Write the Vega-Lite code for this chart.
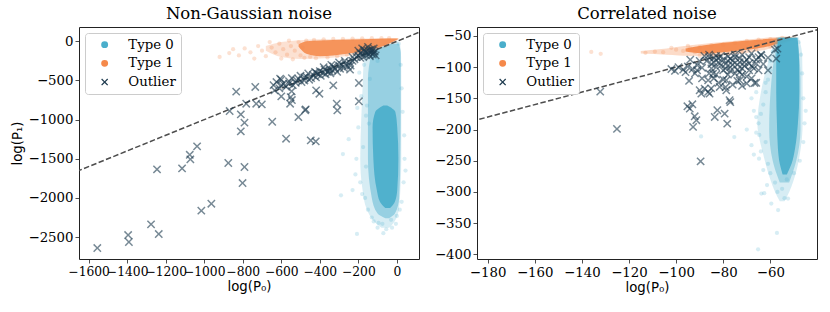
{
"$schema":"https://vega.github.io/schema/vega-lite/v6.json",
"padding":{"left":9,"top":5,"right":0,"bottom":0},
"autosize":{"type":"pad"},
"background":"white",
"spacing":13,
"config":{
 "view":{"stroke":"#222","strokeWidth":1},
 "axis":{"domain":false,"grid":false,"tickColor":"#222","tickSize":4,"tickWidth":0.8,"labelFont":"DejaVu Serif","labelFontSize":13.3,"labelColor":"#000","titleFont":"DejaVu Sans","titleFontSize":13.3,"titleFontWeight":"normal","titleColor":"#000","labelOverlap":false,"labelPadding":2,"format":"d"},
 "title":{"font":"DejaVu Serif","fontSize":16.5,"fontWeight":"normal","color":"#000","offset":5},
 "legend":{"title":null,"orient":"top-left","offset":6,"padding":5,"fillColor":"white","strokeColor":"#cccccc","cornerRadius":3,"labelFont":"DejaVu Serif","labelFontSize":13.3,"labelColor":"#000","rowPadding":4.7,"symbolOffset":8,"labelOffset":17,"symbolSize":48,"symbolOpacity":1,"symbolStrokeWidth":0}
},
"resolve":{"scale":{"color":"independent","shape":"independent","x":"independent","y":"independent"},"legend":{"color":"independent","shape":"independent"}},
"datasets":{
"Ldiag":[{"x":-1700,"y":-1700},{"x":200,"y":200}],
"Rdiag":[{"x":-190,"y":-190},{"x":-35,"y":-35}],
"L1h":[{"x":-680,"y":-120,"y2":-60},{"x":-600,"y":-200,"y2":-10},{"x":-500,"y":-225,"y2":15},{"x":-400,"y":-220,"y2":25},{"x":-300,"y":-200,"y2":30},{"x":-200,"y":-165,"y2":35},{"x":-100,"y":-110,"y2":40},{"x":-30,"y":-40,"y2":42},{"x":10,"y":28,"y2":40}],
"L1c":[{"x":-510,"y":-70,"y2":-40},{"x":-470,"y":-160,"y2":0},{"x":-400,"y":-190,"y2":12},{"x":-330,"y":-180,"y2":18},{"x":-230,"y":-150,"y2":24},{"x":-130,"y":-100,"y2":30},{"x":-50,"y":-40,"y2":35},{"x":5,"y":25,"y2":36}],
"L0h":[{"y":0,"x":-5,"x2":5},{"y":-60,"x":-60,"x2":18},{"y":-200,"x":-170,"x2":22},{"y":-600,"x":-178,"x2":23},{"y":-1000,"x":-185,"x2":23},{"y":-1500,"x":-190,"x2":23},{"y":-1900,"x":-178,"x2":18},{"y":-2150,"x":-155,"x2":10},{"y":-2300,"x":-118,"x2":-12},{"y":-2380,"x":-80,"x2":-40}],
"L0m":[{"y":-30,"x":-30,"x2":10},{"y":-150,"x":-130,"x2":20},{"y":-500,"x":-150,"x2":20},{"y":-900,"x":-150,"x2":20},{"y":-1500,"x":-150,"x2":18},{"y":-2000,"x":-130,"x2":12},{"y":-2200,"x":-100,"x2":-10},{"y":-2260,"x":-60,"x2":-40}],
"L0c":[{"y":-820,"x":-70,"x2":-50},{"y":-900,"x":-112,"x2":-8},{"y":-1100,"x":-126,"x2":2},{"y":-1500,"x":-122,"x2":8},{"y":-1900,"x":-104,"x2":2},{"y":-2050,"x":-88,"x2":-10},{"y":-2130,"x":-60,"x2":-35}],
"R1h":[{"x":-115,"y":-78,"y2":-74},{"x":-104,"y":-80,"y2":-70},{"x":-94,"y":-82,"y2":-65},{"x":-84,"y":-81,"y2":-61},{"x":-72,"y":-78,"y2":-56.5},{"x":-62,"y":-72,"y2":-53},{"x":-52,"y":-59,"y2":-51},{"x":-49,"y":-55,"y2":-51}],
"R1c":[{"x":-96,"y":-75,"y2":-70},{"x":-88,"y":-78,"y2":-65},{"x":-80,"y":-76,"y2":-61},{"x":-72,"y":-73,"y2":-58},{"x":-64,"y":-69,"y2":-55.5},{"x":-57,"y":-63,"y2":-53.5},{"x":-51,"y":-56,"y2":-52.5}],
"R0h":[{"y":-52,"x":-57.5,"x2":-48},{"y":-80,"x":-60,"x2":-46.5},{"y":-140,"x":-64,"x2":-46.3},{"y":-190,"x":-65.5,"x2":-46.3},{"y":-240,"x":-63,"x2":-47.5},{"y":-280,"x":-60,"x2":-50},{"y":-300,"x":-58,"x2":-52},{"y":-315,"x":-56,"x2":-54}],
"R0m":[{"y":-53,"x":-57,"x2":-48.5},{"y":-120,"x":-59.5,"x2":-47.2},{"y":-200,"x":-60.5,"x2":-47.2},{"y":-250,"x":-59,"x2":-49},{"y":-285,"x":-56,"x2":-52}],
"R0c":[{"y":-53,"x":-56.5,"x2":-48.5},{"y":-90,"x":-57.5,"x2":-47.8},{"y":-140,"x":-57.5,"x2":-47.7},{"y":-190,"x":-57.2,"x2":-48.3},{"y":-230,"x":-56.8,"x2":-49.5},{"y":-255,"x":-56,"x2":-51},{"y":-272,"x":-54.8,"x2":-53}],
"L1e":[{"x":-920,"y":-200},{"x":-870,"y":-150},{"x":-820,"y":-180},{"x":-790,"y":-90},{"x":-760,"y":-140},{"x":-720,"y":-60},{"x":-700,"y":-120},{"x":-680,"y":-190},{"x":-650,"y":-80},{"x":-630,"y":-140},{"x":-610,"y":-30},{"x":-590,"y":-100},{"x":-570,"y":-170},{"x":-550,"y":-60},{"x":-530,"y":-120},{"x":-510,"y":-10},{"x":-500,"y":-180},{"x":-490,"y":-80},{"x":-470,"y":10},{"x":-450,"y":-200},{"x":-430,"y":20},{"x":-380,"y":25},{"x":-330,"y":30},{"x":-280,"y":32},{"x":-230,"y":35},{"x":-180,"y":38},{"x":-130,"y":40},{"x":-80,"y":42},{"x":-40,"y":42},{"x":-600,"y":-220},{"x":-540,"y":-230},{"x":-480,"y":-210},{"x":-420,"y":-215},{"x":-360,"y":-205},{"x":-310,"y":-190},{"x":-260,"y":-170},{"x":-200,"y":-140},{"x":-150,"y":-110},{"x":-100,"y":-80},{"x":-60,"y":-55},{"x":-740,"y":-220},{"x":-850,"y":-100},{"x":-660,"y":-10},{"x":-560,"y":10}],
"L0e":[{"x":-170,"y":-300},{"x":-185,"y":-700},{"x":-160,"y":-950},{"x":-200,"y":-1100},{"x":-175,"y":-1350},{"x":-210,"y":-1500},{"x":-190,"y":-1800},{"x":-165,"y":-2000},{"x":-150,"y":-2150},{"x":-120,"y":-2300},{"x":-75,"y":-2330},{"x":-30,"y":-2280},{"x":0,"y":-2230},{"x":25,"y":-2050},{"x":35,"y":-1800},{"x":40,"y":-1500},{"x":38,"y":-1200},{"x":30,"y":-900},{"x":25,"y":-600},{"x":20,"y":-300},{"x":10,"y":-30},{"x":-140,"y":-480},{"x":-155,"y":-820},{"x":-145,"y":-1050},{"x":-160,"y":-1600},{"x":-180,"y":-1950},{"x":-100,"y":-2380},{"x":-55,"y":-2400},{"x":-207,"y":-2460},{"x":-280,"y":-1440},{"x":-290,"y":-1967},{"x":-250,"y":-1250},{"x":-230,"y":-1900},{"x":-70,"y":-2450},{"x":-130,"y":-2250},{"x":45,"y":-1650},{"x":-5,"y":-2330},{"x":-100,"y":-250},{"x":15,"y":-2150},{"x":-25,"y":-2380},{"x":-95,"y":-2320},{"x":-215,"y":-1700},{"x":-195,"y":-400},{"x":-205,"y":-850}],
"R1e":[{"x":-136,"y":-75.6},{"x":-132,"y":-78.5},{"x":-109,"y":-75},{"x":-105.5,"y":-76},{"x":-100,"y":-72},{"x":-97,"y":-74},{"x":-94,"y":-70},{"x":-92,"y":-76},{"x":-90,"y":-68},{"x":-88,"y":-79},{"x":-95,"y":-66},{"x":-85,"y":-65},{"x":-80,"y":-64},{"x":-75,"y":-61},{"x":-70,"y":-58},{"x":-65,"y":-56},{"x":-60,"y":-55},{"x":-55,"y":-53},{"x":-90,"y":-82},{"x":-84,"y":-80},{"x":-78,"y":-78},{"x":-72,"y":-76},{"x":-66,"y":-71},{"x":-60,"y":-67},{"x":-102,"y":-69},{"x":-113,"y":-77}],
"R0e":[{"x":-60,"y":-90},{"x":-61,"y":-120},{"x":-62,"y":-140},{"x":-63,"y":-160},{"x":-64,"y":-175},{"x":-65,"y":-190},{"x":-66,"y":-205},{"x":-64.7,"y":-208.7},{"x":-62,"y":-220},{"x":-64,"y":-235},{"x":-64.8,"y":-246.6},{"x":-61,"y":-255},{"x":-60,"y":-270},{"x":-61.4,"y":-289},{"x":-62.6,"y":-302},{"x":-59.6,"y":-318.7},{"x":-57.2,"y":-365.7},{"x":-65.2,"y":-391.9},{"x":-63.8,"y":-302.7},{"x":-56.7,"y":-329},{"x":-52.5,"y":-310.7},{"x":-58,"y":-285},{"x":-55,"y":-295},{"x":-53,"y":-280},{"x":-50,"y":-270},{"x":-47.5,"y":-250},{"x":-46,"y":-220},{"x":-45.5,"y":-190},{"x":-46,"y":-150},{"x":-46.5,"y":-110},{"x":-47,"y":-80},{"x":-48,"y":-60},{"x":-75.3,"y":-212},{"x":-89.4,"y":-211},{"x":-70,"y":-200},{"x":-68,"y":-150},{"x":-67,"y":-170},{"x":-59,"y":-75},{"x":-60,"y":-105},{"x":-62,"y":-125},{"x":-66,"y":-180},{"x":-68,"y":-225},{"x":-63,"y":-265},{"x":-57,"y":-300},{"x":-54,"y":-310},{"x":-66,"y":-140},{"x":-67,"y":-240},{"x":-45,"y":-170}],
"LX":[{"x":-1555,"y":-2640},{"x":-1395,"y":-2474},{"x":-1391,"y":-2563},{"x":-1276,"y":-2337},{"x":-1236,"y":-2461},{"x":-1245,"y":-1635},{"x":-1115,"y":-1623},{"x":-1075,"y":-1449},{"x":-1072,"y":-1507},{"x":-1037,"y":-1341},{"x":-1015,"y":-2163},{"x":-963,"y":-2074},{"x":-875,"y":-1554},{"x":-868,"y":-890},{"x":-834,"y":-643},{"x":-810,"y":-933},{"x":-810,"y":-1150},{"x":-791,"y":-1039},{"x":-801,"y":-1810},{"x":-791,"y":-1605},{"x":-782,"y":-797},{"x":-735,"y":-583},{"x":-730,"y":-797},{"x":-701,"y":-806},{"x":-647,"y":-1027},{"x":-635,"y":-626},{"x":-600,"y":-703},{"x":-606,"y":-477},{"x":-575,"y":-1244},{"x":-554,"y":-797},{"x":-551,"y":-712},{"x":-546,"y":-638},{"x":-511,"y":-968},{"x":-473,"y":-869},{"x":-447,"y":-1265},{"x":-421,"y":-1278},{"x":-419,"y":-626},{"x":-402,"y":-669},{"x":-330,"y":-562},{"x":-312,"y":-797},{"x":-309,"y":-882},{"x":-197,"y":-532},{"x":-197,"y":-766},{"x":-243,"y":-362},{"x":-545,"y":-750},{"x":-476,"y":-880},
{"x":-640,"y":-560},{"x":-625,"y":-520},{"x":-610,"y":-600},{"x":-600,"y":-490},{"x":-590,"y":-545},{"x":-575,"y":-580},{"x":-560,"y":-510},{"x":-545,"y":-470},{"x":-540,"y":-560},{"x":-525,"y":-530},{"x":-510,"y":-480},{"x":-500,"y":-440},{"x":-495,"y":-520},{"x":-480,"y":-500},{"x":-470,"y":-450},{"x":-460,"y":-410},{"x":-455,"y":-490},{"x":-445,"y":-470},{"x":-435,"y":-430},{"x":-425,"y":-390},{"x":-420,"y":-460},{"x":-410,"y":-420},{"x":-400,"y":-380},{"x":-395,"y":-440},{"x":-385,"y":-400},{"x":-375,"y":-360},{"x":-370,"y":-420},{"x":-360,"y":-390},{"x":-350,"y":-350},{"x":-345,"y":-410},{"x":-335,"y":-370},{"x":-330,"y":-320},{"x":-320,"y":-350},{"x":-310,"y":-390},{"x":-300,"y":-310},{"x":-295,"y":-350},{"x":-285,"y":-300},{"x":-275,"y":-340},{"x":-265,"y":-290},{"x":-255,"y":-320},{"x":-245,"y":-270},{"x":-240,"y":-310},{"x":-230,"y":-250},{"x":-220,"y":-230},{"x":-210,"y":-200},{"x":-200,"y":-180},{"x":-190,"y":-210},{"x":-180,"y":-160},{"x":-175,"y":-200},{"x":-165,"y":-140},{"x":-160,"y":-180},{"x":-150,"y":-120},{"x":-145,"y":-165},{"x":-140,"y":-190},{"x":-135,"y":-140},{"x":-130,"y":-100},{"x":-125,"y":-170},{"x":-120,"y":-150},{"x":-115,"y":-130},{"x":-110,"y":-180},{"x":-170,"y":-110},{"x":-180,"y":-90},{"x":-150,"y":-70},{"x":-200,"y":-120},{"x":-120,"y":-90},
{"x":-380,"y":-330},{"x":-340,"y":-300},{"x":-300,"y":-270},{"x":-270,"y":-250},{"x":-350,"y":-380},{"x":-420,"y":-400},{"x":-480,"y":-460},{"x":-520,"y":-500},{"x":-560,"y":-540},{"x":-600,"y":-560},{"x":-230,"y":-200},{"x":-190,"y":-150},{"x":-160,"y":-130},{"x":-140,"y":-110},{"x":-125,"y":-120}],
"RX":[{"x":-132.2,"y":-139.3},{"x":-125.1,"y":-199},{"x":-89.6,"y":-251},{"x":-95.2,"y":-162.7},{"x":-93.1,"y":-159.5},{"x":-92.1,"y":-178.7},{"x":-91.4,"y":-185},{"x":-92.8,"y":-195.8},{"x":-94.5,"y":-122},{"x":-91.1,"y":-105},{"x":-89.3,"y":-142.5},{"x":-87.9,"y":-134.4},{"x":-86.4,"y":-121},{"x":-85.8,"y":-142.5},{"x":-85.1,"y":-134},{"x":-83.6,"y":-179.8},{"x":-82.5,"y":-169},{"x":-79.4,"y":-174.5},{"x":-78.3,"y":-190.5},{"x":-77.3,"y":-153},{"x":-77,"y":-156},{"x":-81.5,"y":-131.7},{"x":-78.7,"y":-137},{"x":-78.7,"y":-121},{"x":-84.3,"y":-110.4},{"x":-63.8,"y":-81},{"x":-61,"y":-105},{"x":-57.5,"y":-86.3},{"x":-57,"y":-70.3},{"x":-66.7,"y":-125.3},{"x":-73,"y":-121},{"x":-90,"y":-137},{"x":-86.4,"y":-139.7},{"x":-94.2,"y":-166.5},
{"x":-102,"y":-103},{"x":-100.5,"y":-106},{"x":-99,"y":-100},{"x":-97,"y":-104},{"x":-95,"y":-99},{"x":-93,"y":-103},{"x":-91,"y":-97},{"x":-89,"y":-101},{"x":-96,"y":-108},
{"x":-87,"y":-90},{"x":-85,"y":-95},{"x":-84,"y":-85},{"x":-83,"y":-100},{"x":-82,"y":-92},{"x":-81,"y":-82},{"x":-80,"y":-88},{"x":-80,"y":-105},{"x":-79,"y":-95},{"x":-78,"y":-83},{"x":-77,"y":-100},{"x":-76,"y":-90},{"x":-75,"y":-80},{"x":-75,"y":-110},{"x":-74,"y":-96},{"x":-73,"y":-86},{"x":-72,"y":-102},{"x":-71,"y":-92},{"x":-70,"y":-115},{"x":-69,"y":-84},{"x":-68,"y":-98},{"x":-66,"y":-88},{"x":-66,"y":-125},{"x":-65,"y":-105},{"x":-64,"y":-80},{"x":-63,"y":-95},{"x":-61,"y":-85},{"x":-86,"y":-110},{"x":-84,"y":-118},{"x":-82,"y":-125},{"x":-80,"y":-120},{"x":-78,"y":-112},{"x":-76,"y":-128},{"x":-74,"y":-122},{"x":-72,"y":-130},{"x":-70,"y":-126},{"x":-68,"y":-118},{"x":-88,"y":-82},{"x":-86,"y":-80},{"x":-83,"y":-112},{"x":-79,"y":-132},{"x":-73,"y":-108},{"x":-69,"y":-105},{"x":-90,"y":-90},{"x":-92,"y":-110},{"x":-94,"y":-88},{"x":-89,"y":-118},{"x":-58,"y":-72},
{"x":-86,"y":-84},{"x":-84,"y":-92},{"x":-83,"y":-82},{"x":-81,"y":-97},{"x":-79,"y":-102},{"x":-78,"y":-90},{"x":-77,"y":-86},{"x":-76,"y":-96},{"x":-75,"y":-84},{"x":-74,"y":-104},{"x":-73,"y":-92},{"x":-72,"y":-80},{"x":-71,"y":-98},{"x":-70,"y":-88},{"x":-69,"y":-94},{"x":-68,"y":-78},{"x":-67,"y":-102},{"x":-66,"y":-94},{"x":-65,"y":-84},{"x":-82,"y":-86},{"x":-77,"y":-106},{"x":-72,"y":-112},{"x":-85,"y":-102}]
},
"hconcat":[
{
 "width":340,"height":232,
 "title":"Non-Gaussian noise",
 "encoding":{
  "x":{"field":"x","type":"quantitative","scale":{"domain":[-1650,115],"nice":false,"zero":false},"axis":{"values":[-1600,-1400,-1200,-1000,-800,-600,-400,-200,0],"title":"log(P₀)","titlePadding":2,"labelFontSize":12.3}},
  "y":{"field":"y","type":"quantitative","scale":{"domain":[-2780,183],"nice":false,"zero":false},"axis":{"values":[0,-500,-1000,-1500,-2000,-2500],"title":"log(P₁)","titlePadding":4}}
 },
 "layer":[
  {"data":{"name":"L1h"},"mark":{"type":"area","orient":"vertical","interpolate":"monotone","opacity":0.25,"clip":true},"encoding":{"y2":{"field":"y2"},"color":{"datum":"Type 1","type":"nominal"}}},
  {"data":{"name":"L1c"},"mark":{"type":"area","orient":"vertical","interpolate":"monotone","opacity":0.88,"clip":true},"encoding":{"y2":{"field":"y2"},"color":{"datum":"Type 1","type":"nominal"}}},
  {"data":{"name":"L1e"},"mark":{"type":"point","filled":true,"size":18,"opacity":0.25,"clip":true},
   "encoding":{"color":{"datum":"Type 1","type":"nominal","scale":{"domain":["Type 0","Type 1","Outlier"],"range":["#4aaecb","#f5894a","#1d3a4e"]}},
    "shape":{"datum":"Type 1","type":"nominal","scale":{"domain":["Type 0","Type 1","Outlier"],"range":["circle","circle","M-1,-0.75L-0.75,-1L0,-0.25L0.75,-1L1,-0.75L0.25,0L1,0.75L0.75,1L0,0.25L-0.75,1L-1,0.75L-0.25,0Z"]}}}},
  {"data":{"name":"L0h"},"mark":{"type":"area","orient":"horizontal","interpolate":"monotone","opacity":0.22,"clip":true},"encoding":{"x2":{"field":"x2"},"color":{"datum":"Type 0","type":"nominal"}}},
  {"data":{"name":"L0m"},"mark":{"type":"area","orient":"horizontal","interpolate":"monotone","opacity":0.45,"clip":true},"encoding":{"x2":{"field":"x2"},"color":{"datum":"Type 0","type":"nominal"}}},
  {"data":{"name":"L0c"},"mark":{"type":"area","orient":"horizontal","interpolate":"monotone","opacity":0.92,"clip":true},"encoding":{"x2":{"field":"x2"},"color":{"datum":"Type 0","type":"nominal"}}},
  {"data":{"name":"L0e"},"mark":{"type":"point","filled":true,"size":18,"opacity":0.22,"clip":true},"encoding":{"color":{"datum":"Type 0","type":"nominal"},"shape":{"datum":"Type 0","type":"nominal"}}},
  {"data":{"name":"Ldiag"},"mark":{"type":"line","color":"#4d4d4d","strokeWidth":1.5,"strokeDash":[5.5,2.4],"clip":true},"encoding":{}},
  {"data":{"name":"LX"},"mark":{"type":"point","filled":true,"size":70,"opacity":0.6,"clip":true},"encoding":{"color":{"datum":"Outlier","type":"nominal"},"shape":{"datum":"Outlier","type":"nominal"}}}
 ]
},
{
 "width":340,"height":232,
 "title":"Correlated noise",
 "encoding":{
  "x":{"field":"x","type":"quantitative","scale":{"domain":[-184.5,-40.2],"nice":false,"zero":false},"axis":{"values":[-180,-160,-140,-120,-100,-80,-60],"title":"log(P₀)","titlePadding":2}},
  "y":{"field":"y","type":"quantitative","scale":{"domain":[-407.5,-35.6],"nice":false,"zero":false},"axis":{"values":[-50,-100,-150,-200,-250,-300,-350,-400],"title":null}}
 },
 "layer":[
  {"data":{"name":"R1h"},"mark":{"type":"area","orient":"vertical","interpolate":"monotone","opacity":0.3,"clip":true},"encoding":{"y2":{"field":"y2"},"color":{"datum":"Type 1","type":"nominal"}}},
  {"data":{"name":"R1c"},"mark":{"type":"area","orient":"vertical","interpolate":"monotone","opacity":0.92,"clip":true},"encoding":{"y2":{"field":"y2"},"color":{"datum":"Type 1","type":"nominal"}}},
  {"data":{"name":"R1e"},"mark":{"type":"point","filled":true,"size":18,"opacity":0.25,"clip":true},
   "encoding":{"color":{"datum":"Type 1","type":"nominal","scale":{"domain":["Type 0","Type 1","Outlier"],"range":["#4aaecb","#f5894a","#1d3a4e"]}},
    "shape":{"datum":"Type 1","type":"nominal","scale":{"domain":["Type 0","Type 1","Outlier"],"range":["circle","circle","M-1,-0.75L-0.75,-1L0,-0.25L0.75,-1L1,-0.75L0.25,0L1,0.75L0.75,1L0,0.25L-0.75,1L-1,0.75L-0.25,0Z"]}}}},
  {"data":{"name":"R0h"},"mark":{"type":"area","orient":"horizontal","interpolate":"monotone","opacity":0.22,"clip":true},"encoding":{"x2":{"field":"x2"},"color":{"datum":"Type 0","type":"nominal"}}},
  {"data":{"name":"R0m"},"mark":{"type":"area","orient":"horizontal","interpolate":"monotone","opacity":0.4,"clip":true},"encoding":{"x2":{"field":"x2"},"color":{"datum":"Type 0","type":"nominal"}}},
  {"data":{"name":"R0c"},"mark":{"type":"area","orient":"horizontal","interpolate":"monotone","opacity":0.92,"clip":true},"encoding":{"x2":{"field":"x2"},"color":{"datum":"Type 0","type":"nominal"}}},
  {"data":{"name":"R0e"},"mark":{"type":"point","filled":true,"size":18,"opacity":0.22,"clip":true},"encoding":{"color":{"datum":"Type 0","type":"nominal"},"shape":{"datum":"Type 0","type":"nominal"}}},
  {"data":{"name":"Rdiag"},"mark":{"type":"line","color":"#4d4d4d","strokeWidth":1.5,"strokeDash":[5.5,2.4],"clip":true},"encoding":{}},
  {"data":{"name":"RX"},"mark":{"type":"point","filled":true,"size":70,"opacity":0.6,"clip":true},"encoding":{"color":{"datum":"Outlier","type":"nominal"},"shape":{"datum":"Outlier","type":"nominal"}}}
 ]
}
]
}
